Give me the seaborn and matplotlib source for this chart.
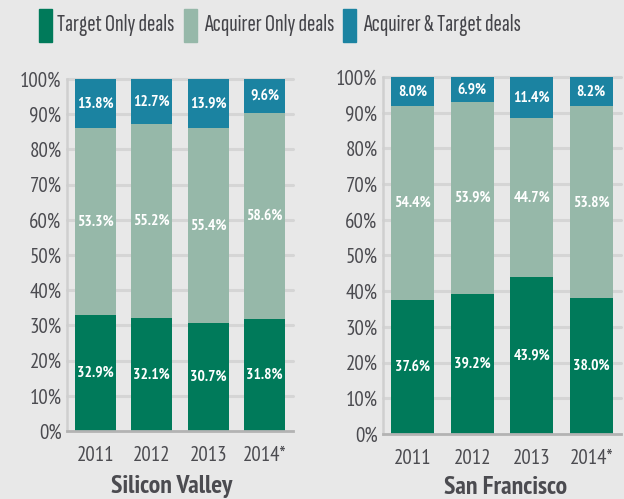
import matplotlib
matplotlib.use("Agg")
import matplotlib.pyplot as plt
from matplotlib.patches import Rectangle
import seaborn as sns
import pandas as pd

years = ["2011", "2012", "2013", "2014*"]
series = ["Target Only deals", "Acquirer Only deals", "Acquirer & Target deals"]

sv_target = [32.9, 32.1, 30.7, 31.8]
sv_acquirer = [53.3, 55.2, 55.4, 58.6]
sv_both = [13.8, 12.7, 13.9, 9.6]

sf_target = [37.6, 39.2, 43.9, 38.0]
sf_acquirer = [54.4, 53.9, 44.7, 53.8]
sf_both = [8.0, 6.9, 11.4, 8.2]

yticks = [0, 10, 20, 30, 40, 50, 60, 70, 80, 90, 100]
ytick_labels = [f"{v}%" for v in yticks]

colors = ["#007a5a", "#96b8a9", "#1b83a1"]
bg = "#e8e8e8"
grid_c = "#d5d5d5"
text_c = "#4b4b50"

sns.set_theme(style="white")
plt.rcParams["font.family"] = ["PT Sans Narrow", "DejaVu Sans"]
legend_family = ["Sofia Sans Extra Condensed", "PT Sans Narrow", "DejaVu Sans"]

fig = plt.figure(figsize=(6.24, 4.99), dpi=100, facecolor=bg)


def draw_panel(ax, target, acquirer, both, title, title_x):
    df = pd.DataFrame({
        "year": years,
        "target": target,
        "acquirer": acquirer,
        "both": both,
    })
    df["c1"] = df["target"]
    df["c2"] = df["target"] + df["acquirer"]
    df["c3"] = df["c2"] + df["both"]
    # stacked bars: draw the cumulative totals from tallest to shortest
    for col, color in zip(["c3", "c2", "c1"], colors[::-1]):
        sns.barplot(data=df, x="year", y=col, color=color, width=0.72,
                    saturation=1, linewidth=0, ax=ax, zorder=3)
    ax.set_facecolor(bg)
    ax.set_xlim(-0.5, 3.5)
    ax.set_ylim(0, 100)
    ax.set_yticks(yticks)
    ax.set_yticklabels(ytick_labels)
    ax.tick_params(axis="y", length=0, pad=4, labelsize=15, labelcolor=text_c)
    ax.tick_params(axis="x", length=0, pad=11, labelsize=15, labelcolor=text_c)
    ax.set_xlabel("")
    ax.set_ylabel("")
    for y in yticks[1:]:
        ax.axhline(y, color=grid_c, lw=2.2, zorder=1, clip_on=False)
    for side in ["top", "right"]:
        ax.spines[side].set_visible(False)
    ax.spines["left"].set_color("#cfcfcf")
    ax.spines["left"].set_linewidth(1.8)
    ax.spines["bottom"].set_color("#b3b3b3")
    ax.spines["bottom"].set_linewidth(2)
    ax.spines["bottom"].set_zorder(4)

    for i in range(len(years)):
        mids = [df["c1"][i] / 2,
                df["c1"][i] + df["acquirer"][i] / 2,
                df["c2"][i] + df["both"][i] / 2]
        vals = [df["target"][i], df["acquirer"][i], df["both"][i]]
        for m, v in zip(mids, vals):
            ax.text(i, m, f"{v:.1f}%", ha="center", va="center", color="white",
                    fontsize=11.2, fontweight="bold", zorder=5)

    fig.text(title_x, 1 - 487 / 499, title, ha="center", va="center",
             fontsize=18.5, fontweight="bold", color=text_c)


ax1 = fig.add_axes([67 / 624, 1 - 431 / 499, 226 / 624, 352 / 499])
ax2 = fig.add_axes([383 / 624, 1 - 434 / 499, 238 / 624, 357 / 499])

draw_panel(ax1, sv_target, sv_acquirer, sv_both, "Silicon Valley", 172 / 624)
draw_panel(ax2, sf_target, sf_acquirer, sf_both, "San Francisco", 506 / 624)

# legend row across the top
patch_x = [39, 184, 343]
text_x = [57, 204, 363]
for px, tx, color, label in zip(patch_x, text_x, colors, series):
    fig.patches.append(Rectangle((px / 624, 1 - 42 / 499), 13 / 624, 33 / 499,
                                 transform=fig.transFigure, color=color))
    fig.text(tx / 624, 1 - 25 / 499, label, ha="left", va="center",
             fontsize=18, color="#45454a", family=legend_family)

fig.savefig("out.png", dpi=100, facecolor=bg)
